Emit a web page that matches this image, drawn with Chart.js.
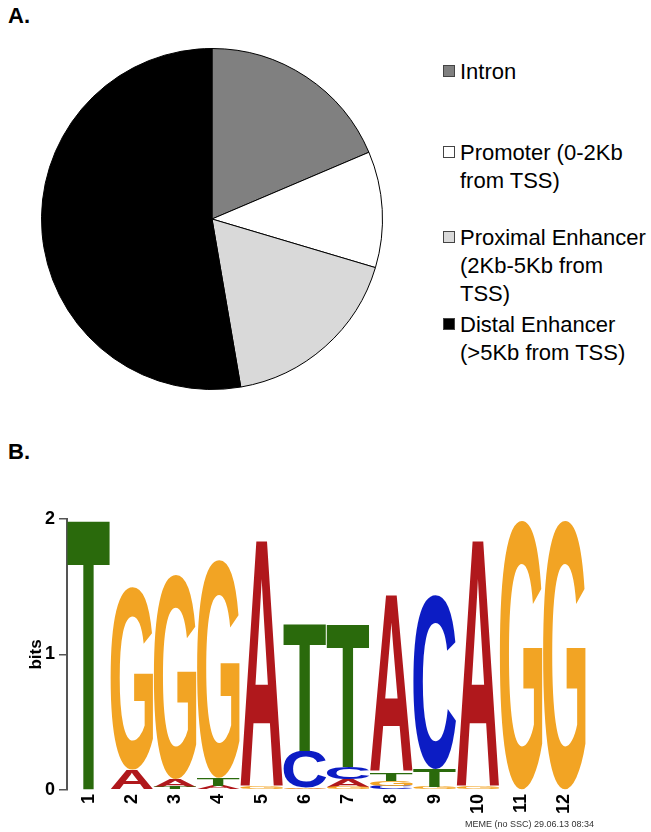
<!DOCTYPE html>
<html>
<head>
<meta charset="utf-8">
<script src="https://cdn.jsdelivr.net/npm/chart.js@4.4.0/dist/chart.umd.min.js"></script>
<style>
  body { margin: 0; background: #fff; font-family: "Liberation Sans", Arial, sans-serif; }
  #page { position: relative; width: 651px; height: 832px; overflow: hidden; }
  .panel { position: absolute; left: 8px; font-weight: bold; font-size: 22px; line-height: 26px; }
  #pieWrap { position: absolute; left: 41px; top: 48px; }
  #logoWrap { position: absolute; left: 0; top: 480px; }
  .item { position: absolute; left: 443px; font-size: 22px; line-height: 28px; white-space: nowrap; }
  .item .box { position: absolute; left: 0; top: 7px; width: 10px; height: 10px; border: 1px solid #444; }
  .item .txt { margin-left: 17px; }
  #stamp { position: absolute; left: 465px; top: 819px; font-size: 9px; color: #333; }
</style>
</head>
<body>
<div id="page">
  <div class="panel" style="top:3px">A.</div>
  <div id="pieWrap"><canvas id="pie" width="342" height="342"></canvas></div>
  <div id="legend"></div>
  <div class="panel" style="top:439px">B.</div>
  <div id="logoWrap"><canvas id="logo" width="651" height="352"></canvas></div>
  <div id="stamp">MEME (no SSC) 29.06.13 08:34</div>
</div>
<script>
// Panel A: genomic location of sites
const regionLabels = [
  ['Intron'],
  ['Promoter (0-2Kb', 'from TSS)'],
  ['Proximal Enhancer', '(2Kb-5Kb from', 'TSS)'],
  ['Distal Enhancer', '(>5Kb from TSS)']
];
const regionShares = [18.6, 11.0, 17.7, 52.7];
const regionColors = ['#808080', '#ffffff', '#d9d9d9', '#000000'];

// Panel B: motif logo, information content (bits) per letter and position
const positions = ['1', '2', '3', '4', '5', '6', '7', '8', '9', '10', '11', '12'];
const letters = ['A', 'C', 'G', 'T'];
const bitsA = [0, 0.15, 0.06, 0.03, 1.82, 0.01, 0.06, 1.30, 0, 1.82, 0, 0];
const bitsC = [0, 0, 0, 0, 0, 0.27, 0.09, 0.03, 1.28, 0, 0, 0];
const bitsG = [0, 1.35, 1.51, 1.61, 0.02, 0.01, 0.02, 0.04, 0.02, 0.02, 1.99, 1.99];
const bitsT = [2.0, 0, 0.02, 0.06, 0, 0.94, 1.06, 0.06, 0.13, 0, 0, 0];
const letterColors = { A: '#b0181c', C: '#0c1cc4', G: '#f2a424', T: '#2a6a0c' };

// legend (html, lines kept as in the figure)
const legendTops = [58, 139, 224, 311];
const legendEl = document.getElementById('legend');
regionLabels.forEach((lines, i) => {
  const item = document.createElement('div');
  item.className = 'item';
  item.style.top = legendTops[i] + 'px';
  item.innerHTML = `<span class="box" style="background:${regionColors[i]}"></span>` +
    `<div class="txt">${lines.map(l => l.replace('>', '&gt;')).join('<br>')}</div>`;
  legendEl.appendChild(item);
});

new Chart(document.getElementById('pie'), {
  type: 'pie',
  data: {
    labels: regionLabels.map(l => l.join(' ')),
    datasets: [{
      data: regionShares,
      backgroundColor: regionColors,
      borderColor: '#000',
      borderWidth: 1
    }]
  },
  options: {
    responsive: false,
    animation: false,
    layout: { padding: 0 },
    plugins: { legend: { display: false }, tooltip: { enabled: false } }
  }
});

// stack letters per position: smallest at the bottom
const heights = { A: bitsA, C: bitsC, G: bitsG, T: bitsT };
const ranges = { A: [], C: [], G: [], T: [] };
positions.forEach((p, i) => {
  letters.forEach(l => ranges[l][i] = null);
  const order = letters.filter(l => heights[l][i] > 0)
    .sort((a, b) => heights[a][i] - heights[b][i]);
  let base = 0;
  order.forEach(l => {
    ranges[l][i] = [base, base + heights[l][i]];
    base += heights[l][i];
  });
});

// draws each letter stretched into its bar box
const glyphPlugin = {
  id: 'glyphs',
  afterDatasetsDraw(chart) {
    const ctx = chart.ctx;
    ctx.save();
    ctx.font = 'bold 200px "Liberation Sans", Arial, sans-serif';
    ctx.textAlign = 'left';
    ctx.textBaseline = 'alphabetic';
    chart.data.datasets.forEach((ds, di) => {
      const meta = chart.getDatasetMeta(di);
      const m = ctx.measureText(ds.label);
      const gw = m.actualBoundingBoxLeft + m.actualBoundingBoxRight;
      const gh = m.actualBoundingBoxAscent + m.actualBoundingBoxDescent;
      meta.data.forEach((bar, i) => {
        if (ds.data[i] == null) return;
        const { x, y, base, width } = bar.getProps(['x', 'y', 'base', 'width'], true);
        const top = Math.min(y, base);
        const h = Math.abs(base - y);
        if (h <= 0) return;
        ctx.save();
        ctx.translate(x - width / 2, top);
        ctx.scale(width / gw, h / gh);
        ctx.fillStyle = letterColors[ds.label];
        ctx.fillText(ds.label, m.actualBoundingBoxLeft, m.actualBoundingBoxAscent);
        ctx.restore();
      });
    });
    ctx.restore();
  }
};

new Chart(document.getElementById('logo'), {
  type: 'bar',
  data: {
    labels: positions,
    datasets: letters.map(l => ({
      label: l,
      data: ranges[l],
      backgroundColor: 'rgba(0,0,0,0)',
      borderWidth: 0,
      grouped: false,
      barPercentage: 1,
      categoryPercentage: 0.985
    }))
  },
  options: {
    responsive: false,
    animation: false,
    layout: { padding: { top: 39, right: 65, left: 0, bottom: 0 } },
    plugins: { legend: { display: false }, tooltip: { enabled: false } },
    scales: {
      x: {
        grid: { display: false, drawTicks: false },
        border: { display: false },
        ticks: {
          color: '#000', font: { weight: 'bold', size: 18 },
          minRotation: 90, maxRotation: 90, padding: 4, autoSkip: false
        },
        afterFit(scale) { scale.height = 42; }
      },
      y: {
        min: 0, max: 2,
        ticks: { stepSize: 1, color: '#000', font: { weight: 'bold', size: 18 }, padding: 4 },
        grid: { drawOnChartArea: false, drawTicks: true, tickLength: 8, color: '#555', lineWidth: 1.5 },
        border: { display: true, color: '#555', width: 2 },
        title: {
          display: true, text: 'bits', color: '#000',
          font: { weight: 'bold', size: 17 }, padding: { top: 26, bottom: 0 }
        },
        afterFit(scale) { scale.width = 67; }
      }
    }
  },
  plugins: [glyphPlugin]
});
</script>
</body>
</html>
